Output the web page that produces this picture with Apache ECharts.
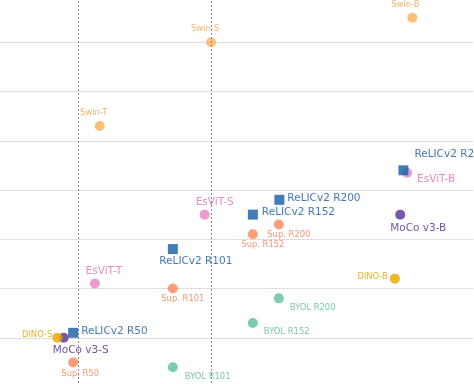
<!DOCTYPE html>
<html>
<head>
<meta charset="utf-8">
<script src="https://cdn.jsdelivr.net/npm/echarts@6/dist/echarts.min.js"></script>
<style>html,body{margin:0;padding:0;background:#fff;overflow:hidden;width:474px;height:384px}#c{position:absolute;left:-54px;top:-7px;width:530px;height:394px}</style>
</head>
<body>
<div id="c"></div>
<script>
// Data (x: parameters in millions, y: top-1 accuracy %)
const swinNames = ['Swin-T', 'Swin-S', 'Swin-B'];
const swinX = [29, 50, 88];
const swinY = [81.3, 83.0, 83.5];

const esvitNames = ['EsViT-T', 'EsViT-S', 'EsViT-B'];
const esvitX = [28.1, 48.8, 87.0];
const esvitY = [78.1, 79.5, 80.35];

const supNames = ['Sup. R50', 'Sup. R101', 'Sup. R152', 'Sup. R200'];
const supX = [24.0, 42.8, 57.9, 62.8];
const supY = [76.5, 78.0, 79.1, 79.3];

const byolNames = ['BYOL R101', 'BYOL R152', 'BYOL R200'];
const byolX = [42.8, 57.9, 62.8];
const byolY = [76.4, 77.3, 77.8];

const dinoNames = ['DINO-S', 'DINO-B'];
const dinoX = [21.0, 84.7];
const dinoY = [77.0, 78.2];

const mocoNames = ['MoCo v3-S', 'MoCo v3-B'];
const mocoX = [22.2, 85.7];
const mocoY = [77.0, 79.5];

const relicNames = ['ReLICv2 R50', 'ReLICv2 R101', 'ReLICv2 R152', 'ReLICv2 R200', 'ReLICv2 R200 2x'];
const relicX = [24.0, 42.8, 57.9, 62.9, 86.3];
const relicY = [77.1, 78.8, 79.5, 79.8, 80.4];

const refLinesX = [25, 50];
const yTicks = [76, 77, 78, 79, 80, 81, 82, 83, 84];

// label placement (style only)
const labelPlace = {
  'Swin-T': ['center', -6, -13], 'Swin-S': ['center', -6, -13], 'Swin-B': ['center', -7, -13],
  'EsViT-T': ['center', 9, -12], 'EsViT-S': ['center', 10, -12], 'EsViT-B': ['left', 10, 7],
  'Sup. R50': ['center', 7, 11], 'Sup. R101': ['center', 10, 10], 'Sup. R152': ['center', 10, 10], 'Sup. R200': ['center', 10, 10],
  'BYOL R101': ['left', 12, 10], 'BYOL R152': ['left', 11, 9], 'BYOL R200': ['left', 11, 9],
  'DINO-S': ['right', -5, -3], 'DINO-B': ['right', -7, -2],
  'MoCo v3-S': ['center', 17, 13], 'MoCo v3-B': ['center', 18, 14],
  'ReLICv2 R50': ['left', 8, -2], 'ReLICv2 R101': ['center', 23, 12], 'ReLICv2 R152': ['left', 9, -2],
  'ReLICv2 R200': ['left', 8, -2], 'ReLICv2 R200 2x': ['left', 11, -16]
};

function mk(names, xs, ys) {
  return names.map((n, i) => {
    const p = labelPlace[n];
    return { name: n, value: [xs[i], ys[i]], label: { align: p[0], offset: [p[1], p[2]] } };
  });
}

function series(name, names, xs, ys, color, labelColor, fontSize, symbol, z) {
  return {
    type: 'scatter', name: name, symbol: symbol || 'circle', symbolSize: 10, z: z || 2,
    itemStyle: { color: color, opacity: 0.85 },
    label: {
      show: true, position: 'inside', verticalAlign: 'middle', formatter: '{b}',
      color: labelColor, fontSize: fontSize, fontFamily: 'DejaVu Sans'
    },
    emphasis: { disabled: true },
    data: mk(names, xs, ys)
  };
}

const chart = echarts.init(document.getElementById('c'), null, { renderer: 'canvas' });
const s = [
  series('Swin', swinNames, swinX, swinY, '#fdb462', '#f5a64b', 8.4),
  series('EsViT', esvitNames, esvitX, esvitY, '#e78ac3', '#e377b8', 10.5),
  series('Sup', supNames, supX, supY, '#fc8d62', '#f7845a', 8.4),
  series('BYOL', byolNames, byolX, byolY, '#66c2a5', '#5fbb9e', 8.4),
  series('MoCo', mocoNames, mocoX, mocoY, '#5e3c99', '#5a3492', 10.5, 'circle', 3),
  series('DINO', dinoNames, dinoX, dinoY, '#e6ab02', '#e0a600', 8.4, 'circle', 4),
  series('ReLICv2', relicNames, relicX, relicY, '#2166ac', '#2463a8', 10.5, 'rect', 5)
];
s[0].markLine = {
  silent: true, symbol: 'none', label: { show: false },
  lineStyle: { color: '#8c8c8c', type: [2, 2], width: 1 },
  data: refLinesX.map(v => ({ xAxis: v }))
};
chart.setOption({
  animation: false,
  grid: { left: 0, right: 0, top: 0, bottom: 0 },
  xAxis: {
    type: 'value', min: 0, max: 100,
    axisLine: { show: false }, axisTick: { show: false }, axisLabel: { show: false },
    splitLine: { show: false }
  },
  yAxis: {
    type: 'value', min: yTicks[0], max: yTicks[yTicks.length - 1], interval: 1,
    axisLine: { show: false }, axisTick: { show: false }, axisLabel: { show: false },
    splitLine: { show: true, lineStyle: { color: '#d4d4d4', type: [3, 1], width: 1 } }
  },
  series: s
});
</script>
</body>
</html>
